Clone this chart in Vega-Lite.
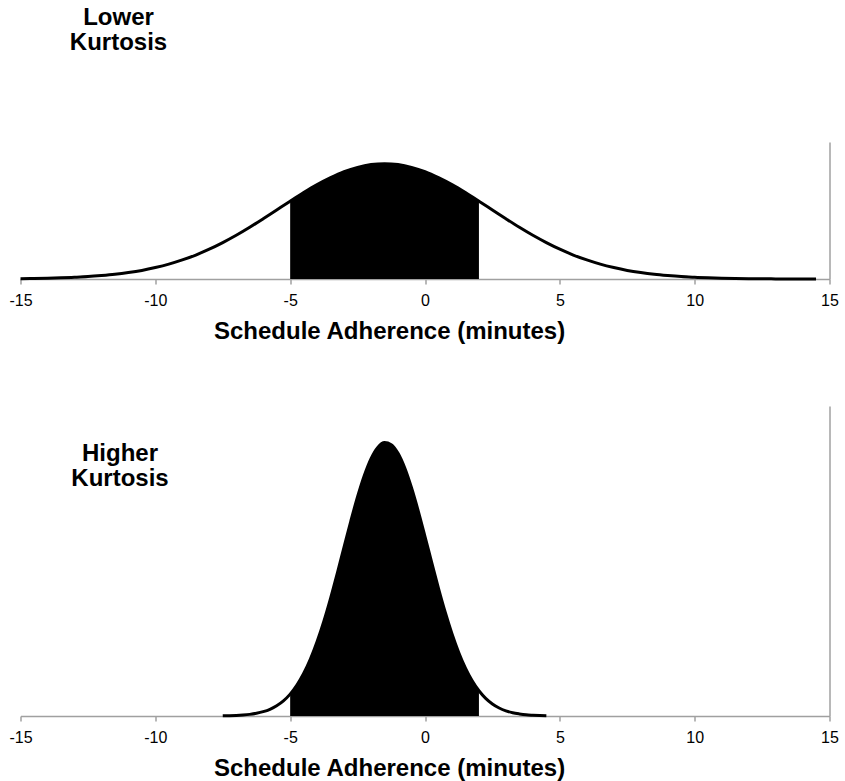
{
  "$schema": "https://vega.github.io/schema/vega-lite/v6.json",
  "background": "white",
  "padding": {"left": 8.5, "top": 6, "right": 5, "bottom": 2},
  "spacing": 62,
  "config": {
    "view": {"stroke": null},
    "font": "Liberation Sans",
    "title": {
      "anchor": "start",
      "frame": "group",
      "fontSize": 24,
      "fontWeight": "bold",
      "color": "black",
      "lineHeight": 25
    },
    "axisX": {
      "grid": false,
      "labelFontSize": 16,
      "labelColor": "black",
      "labelBaseline": "alphabetic",
      "labelPadding": 21,
      "labelFlush": false,
      "labelOverlap": false,
      "tickSize": 5,
      "tickColor": "#a0a0a0",
      "tickWidth": 1.5,
      "domainColor": "#a0a0a0",
      "domainWidth": 1.5,
      "titleFontSize": 24,
      "titleFontWeight": "bold",
      "titleColor": "black",
      "titleX": 368.6,
      "titleY": 59.5,
      "titleAlign": "center",
      "titleBaseline": "alphabetic"
    },
    "axisY": {
      "labels": false,
      "ticks": false,
      "grid": false,
      "domainColor": "#a0a0a0",
      "domainWidth": 1.5
    }
  },
  "vconcat": [
    {
      "width": 809,
      "height": 137,
      "title": {"text": ["Lower", "Kurtosis"], "align": "center", "dx": 98, "offset": 87},
      "data": {"values": [
        {"x": -15, "y": 0.0003}, {"x": -14.5, "y": 0.0004}, {"x": -14, "y": 0.0007}, {"x": -13.5, "y": 0.0010},
        {"x": -13, "y": 0.0015}, {"x": -12.5, "y": 0.0021}, {"x": -12, "y": 0.0030}, {"x": -11.5, "y": 0.0041},
        {"x": -11, "y": 0.0056}, {"x": -10.5, "y": 0.0075}, {"x": -10, "y": 0.0100}, {"x": -9.5, "y": 0.0130},
        {"x": -9, "y": 0.0167}, {"x": -8.5, "y": 0.0210}, {"x": -8, "y": 0.0261}, {"x": -7.5, "y": 0.0319},
        {"x": -7, "y": 0.0383}, {"x": -6.5, "y": 0.0453}, {"x": -6, "y": 0.0528}, {"x": -5.5, "y": 0.0605},
        {"x": -5, "y": 0.0682}, {"x": -4.5, "y": 0.0757}, {"x": -4, "y": 0.0827}, {"x": -3.5, "y": 0.0888},
        {"x": -3, "y": 0.0940}, {"x": -2.5, "y": 0.0978}, {"x": -2, "y": 0.1002}, {"x": -1.5, "y": 0.1010},
        {"x": -1, "y": 0.1002}, {"x": -0.5, "y": 0.0978}, {"x": 0, "y": 0.0940}, {"x": 0.5, "y": 0.0888},
        {"x": 1, "y": 0.0827}, {"x": 1.5, "y": 0.0757}, {"x": 2, "y": 0.0682}, {"x": 2.5, "y": 0.0605},
        {"x": 3, "y": 0.0528}, {"x": 3.5, "y": 0.0453}, {"x": 4, "y": 0.0383}, {"x": 4.5, "y": 0.0319},
        {"x": 5, "y": 0.0261}, {"x": 5.5, "y": 0.0210}, {"x": 6, "y": 0.0167}, {"x": 6.5, "y": 0.0130},
        {"x": 7, "y": 0.0100}, {"x": 7.5, "y": 0.0075}, {"x": 8, "y": 0.0056}, {"x": 8.5, "y": 0.0041},
        {"x": 9, "y": 0.0030}, {"x": 9.5, "y": 0.0021}, {"x": 10, "y": 0.0015}, {"x": 10.5, "y": 0.0010},
        {"x": 11, "y": 0.0007}, {"x": 11.5, "y": 0.0004}, {"x": 12, "y": 0.0003}, {"x": 12.5, "y": 0.0002},
        {"x": 13, "y": 0.0001}, {"x": 13.5, "y": 0.0001}, {"x": 14, "y": 0.0000}, {"x": 14.5, "y": 0.0000}
      ]},
      "encoding": {
        "x": {"field": "x", "type": "quantitative", "scale": {"domain": [-15, 15], "nice": false, "zero": false},
              "axis": {"title": "Schedule Adherence (minutes)", "values": [-15, -10, -5, 0, 5, 10, 15], "labelExpr": "'' + datum.value"}},
        "y": {"field": "y", "type": "quantitative", "scale": {"domain": [0, 0.12], "nice": false},
              "axis": {"orient": "right", "title": null, "labels": false, "ticks": false}}
      },
      "layer": [
        {
          "transform": [{"filter": "datum.x >= -5 && datum.x <= 2"}],
          "mark": {"type": "area", "color": "black", "interpolate": "monotone"}
        },
        {
          "mark": {"type": "line", "color": "black", "strokeWidth": 3, "interpolate": "monotone"}
        }
      ]
    },
    {
      "width": 809,
      "height": 310,
      "title": {"text": ["Higher", "Kurtosis"], "align": "center", "dx": 99.5, "offset": -85},
      "data": {"values": [
        {"x": -7.5, "y": 0.0002}, {"x": -7.25, "y": 0.0003}, {"x": -7, "y": 0.0005}, {"x": -6.75, "y": 0.0009},
        {"x": -6.5, "y": 0.0015}, {"x": -6.25, "y": 0.0025}, {"x": -6, "y": 0.0040}, {"x": -5.75, "y": 0.0062},
        {"x": -5.5, "y": 0.0095}, {"x": -5.25, "y": 0.0140}, {"x": -5, "y": 0.0202}, {"x": -4.75, "y": 0.0285},
        {"x": -4.5, "y": 0.0392}, {"x": -4.25, "y": 0.0525}, {"x": -4, "y": 0.0687}, {"x": -3.75, "y": 0.0875},
        {"x": -3.5, "y": 0.1088}, {"x": -3.25, "y": 0.1320}, {"x": -3, "y": 0.1561}, {"x": -2.75, "y": 0.1800},
        {"x": -2.5, "y": 0.2025}, {"x": -2.25, "y": 0.2221}, {"x": -2, "y": 0.2377}, {"x": -1.75, "y": 0.2480},
        {"x": -1.5, "y": 0.2524}, {"x": -1.25, "y": 0.2505}, {"x": -1, "y": 0.2425}, {"x": -0.75, "y": 0.2289},
        {"x": -0.5, "y": 0.2107}, {"x": -0.25, "y": 0.1892}, {"x": 0, "y": 0.1657}, {"x": 0.25, "y": 0.1416},
        {"x": 0.5, "y": 0.1179}, {"x": 0.75, "y": 0.0958}, {"x": 1, "y": 0.0759}, {"x": 1.25, "y": 0.0586},
        {"x": 1.5, "y": 0.0442}, {"x": 1.75, "y": 0.0325}, {"x": 2, "y": 0.0233}, {"x": 2.25, "y": 0.0163},
        {"x": 2.5, "y": 0.0111}, {"x": 2.75, "y": 0.0074}, {"x": 3, "y": 0.0048}, {"x": 3.25, "y": 0.0030},
        {"x": 3.5, "y": 0.0019}, {"x": 3.75, "y": 0.0011}, {"x": 4, "y": 0.0007}, {"x": 4.25, "y": 0.0004},
        {"x": 4.5, "y": 0.0002}
      ]},
      "encoding": {
        "x": {"field": "x", "type": "quantitative", "scale": {"domain": [-15, 15], "nice": false, "zero": false},
              "axis": {"title": "Schedule Adherence (minutes)", "values": [-15, -10, -5, 0, 5, 10, 15], "labelExpr": "'' + datum.value"}},
        "y": {"field": "y", "type": "quantitative", "scale": {"domain": [0, 0.2862], "nice": false},
              "axis": {"orient": "right", "title": null, "labels": false, "ticks": false}}
      },
      "layer": [
        {
          "transform": [{"filter": "datum.x >= -5 && datum.x <= 2"}],
          "mark": {"type": "area", "color": "black", "interpolate": "monotone"}
        },
        {
          "mark": {"type": "line", "color": "black", "strokeWidth": 3, "interpolate": "monotone"}
        }
      ]
    }
  ]
}
